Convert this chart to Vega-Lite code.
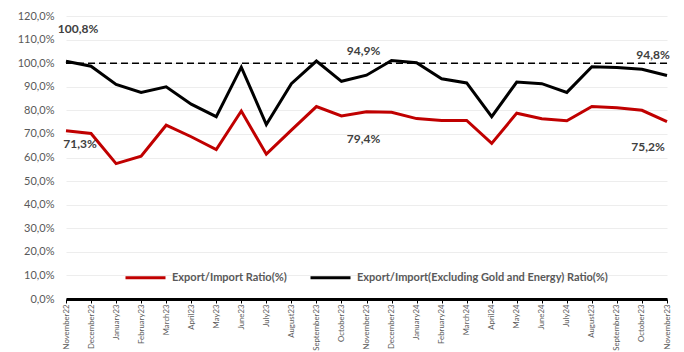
{
  "$schema": "https://vega.github.io/schema/vega-lite/v6.json",
  "autosize": "none",
  "width": 601,
  "height": 283,
  "padding": {"left": 66, "top": 16, "right": 17, "bottom": 53},
  "background": "white",
  "config": {"view": {"stroke": null}, "font": "Lato"},
  "datasets": {
    "rows": [
      {"month": "November22", "series": "Export/Import Ratio(%)", "value": 71.3},
      {"month": "December22", "series": "Export/Import Ratio(%)", "value": 70.2},
      {"month": "January23", "series": "Export/Import Ratio(%)", "value": 57.4},
      {"month": "February23", "series": "Export/Import Ratio(%)", "value": 60.6},
      {"month": "March23", "series": "Export/Import Ratio(%)", "value": 73.7},
      {"month": "April23", "series": "Export/Import Ratio(%)", "value": 68.8},
      {"month": "May23", "series": "Export/Import Ratio(%)", "value": 63.4},
      {"month": "June23", "series": "Export/Import Ratio(%)", "value": 79.7},
      {"month": "July23", "series": "Export/Import Ratio(%)", "value": 61.4},
      {"month": "August23", "series": "Export/Import Ratio(%)", "value": 71.6},
      {"month": "September23", "series": "Export/Import Ratio(%)", "value": 81.6},
      {"month": "October23", "series": "Export/Import Ratio(%)", "value": 77.6},
      {"month": "November23", "series": "Export/Import Ratio(%)", "value": 79.4},
      {"month": "December23", "series": "Export/Import Ratio(%)", "value": 79.2},
      {"month": "January24", "series": "Export/Import Ratio(%)", "value": 76.5},
      {"month": "February24", "series": "Export/Import Ratio(%)", "value": 75.7},
      {"month": "March24", "series": "Export/Import Ratio(%)", "value": 75.7},
      {"month": "April24", "series": "Export/Import Ratio(%)", "value": 66.0},
      {"month": "May24", "series": "Export/Import Ratio(%)", "value": 78.8},
      {"month": "June24", "series": "Export/Import Ratio(%)", "value": 76.4},
      {"month": "July24", "series": "Export/Import Ratio(%)", "value": 75.6},
      {"month": "August23 ", "series": "Export/Import Ratio(%)", "value": 81.6},
      {"month": "September23 ", "series": "Export/Import Ratio(%)", "value": 81.1},
      {"month": "October23 ", "series": "Export/Import Ratio(%)", "value": 80.0},
      {"month": "November23 ", "series": "Export/Import Ratio(%)", "value": 75.2},
      {"month": "November22", "series": "Export/Import(Excluding Gold and Energy) Ratio(%)", "value": 100.8},
      {"month": "December22", "series": "Export/Import(Excluding Gold and Energy) Ratio(%)", "value": 98.7},
      {"month": "January23", "series": "Export/Import(Excluding Gold and Energy) Ratio(%)", "value": 91.0},
      {"month": "February23", "series": "Export/Import(Excluding Gold and Energy) Ratio(%)", "value": 87.6},
      {"month": "March23", "series": "Export/Import(Excluding Gold and Energy) Ratio(%)", "value": 90.0},
      {"month": "April23", "series": "Export/Import(Excluding Gold and Energy) Ratio(%)", "value": 82.6},
      {"month": "May23", "series": "Export/Import(Excluding Gold and Energy) Ratio(%)", "value": 77.3},
      {"month": "June23", "series": "Export/Import(Excluding Gold and Energy) Ratio(%)", "value": 98.3},
      {"month": "July23", "series": "Export/Import(Excluding Gold and Energy) Ratio(%)", "value": 74.0},
      {"month": "August23", "series": "Export/Import(Excluding Gold and Energy) Ratio(%)", "value": 91.3},
      {"month": "September23", "series": "Export/Import(Excluding Gold and Energy) Ratio(%)", "value": 100.9},
      {"month": "October23", "series": "Export/Import(Excluding Gold and Energy) Ratio(%)", "value": 92.3},
      {"month": "November23", "series": "Export/Import(Excluding Gold and Energy) Ratio(%)", "value": 94.9},
      {"month": "December23", "series": "Export/Import(Excluding Gold and Energy) Ratio(%)", "value": 101.1},
      {"month": "January24", "series": "Export/Import(Excluding Gold and Energy) Ratio(%)", "value": 100.2},
      {"month": "February24", "series": "Export/Import(Excluding Gold and Energy) Ratio(%)", "value": 93.4},
      {"month": "March24", "series": "Export/Import(Excluding Gold and Energy) Ratio(%)", "value": 91.6},
      {"month": "April24", "series": "Export/Import(Excluding Gold and Energy) Ratio(%)", "value": 77.3},
      {"month": "May24", "series": "Export/Import(Excluding Gold and Energy) Ratio(%)", "value": 92.0},
      {"month": "June24", "series": "Export/Import(Excluding Gold and Energy) Ratio(%)", "value": 91.3},
      {"month": "July24", "series": "Export/Import(Excluding Gold and Energy) Ratio(%)", "value": 87.6},
      {"month": "August23 ", "series": "Export/Import(Excluding Gold and Energy) Ratio(%)", "value": 98.5},
      {"month": "September23 ", "series": "Export/Import(Excluding Gold and Energy) Ratio(%)", "value": 98.2},
      {"month": "October23 ", "series": "Export/Import(Excluding Gold and Energy) Ratio(%)", "value": 97.4},
      {"month": "November23 ", "series": "Export/Import(Excluding Gold and Energy) Ratio(%)", "value": 94.8}
    ]
  },
  "data": {"name": "rows"},
  "encoding": {
    "x": {
      "field": "month", "type": "ordinal", "sort": null,
      "scale": {"type": "point", "padding": 0},
      "axis": {
        "title": null, "labelAngle": -90, "labelFont": "Lato", "labelFontSize": 7.8,
        "labelColor": "#595959", "domainColor": "#000000", "domainWidth": 3,
        "tickColor": "#000000", "tickSize": 4, "tickWidth": 1, "grid": false,
        "labelPadding": 1
      }
    },
    "y": {
      "field": "value", "type": "quantitative",
      "scale": {"domain": [0, 120], "nice": false},
      "axis": {
        "title": null, "domain": false, "ticks": false, "grid": true,
        "gridColor": "#EDEDED", "gridWidth": 1,
        "values": [0, 10, 20, 30, 40, 50, 60, 70, 80, 90, 100, 110, 120],
        "labelExpr": "replace(format(datum.value, '.1f'), '.', ',') + '%'",
        "labelFont": "Lato", "labelFontSize": 11, "labelColor": "#595959",
        "labelPadding": 12
      }
    }
  },
  "layer": [
    {
      "data": {"values": [{"ref": 100}]},
      "mark": {"type": "rule", "color": "#000000", "strokeDash": [7, 4], "strokeWidth": 1.5},
      "encoding": {"x": null, "y": {"field": "ref", "type": "quantitative"}}
    },
    {
      "mark": {"type": "line", "strokeWidth": 3},
      "encoding": {
        "color": {
          "field": "series", "type": "nominal",
          "scale": {
            "domain": ["Export/Import Ratio(%)", "Export/Import(Excluding Gold and Energy) Ratio(%)"],
            "range": ["#C00000", "#000000"]
          },
          "legend": {
            "title": null, "orient": "none", "direction": "horizontal",
            "legendX": 58, "legendY": 240, "padding": 0,
            "symbolType": "stroke", "symbolSize": 1600, "symbolStrokeWidth": 3,
            "labelFont": "Lato", "labelFontSize": 11, "labelFontWeight": "bold",
            "labelColor": "#595959", "labelOffset": 5, "columnPadding": 17,
            "labelLimit": 400
          }
        }
      }
    },
    {
      "transform": [
        {"filter": "datum.month == 'November22' && datum.value > 90"},
        {"calculate": "replace(format(datum.value, '.1f'), '.', ',') + '%'", "as": "label"}
      ],
      "mark": {"type": "text", "font": "Lato", "fontSize": 12, "fontWeight": "bold", "color": "#404040", "dx": 12, "dy": -32},
      "encoding": {"text": {"field": "label"}}
    },
    {
      "transform": [
        {"filter": "datum.month == 'November22' && datum.value < 90"},
        {"calculate": "replace(format(datum.value, '.1f'), '.', ',') + '%'", "as": "label"}
      ],
      "mark": {"type": "text", "font": "Lato", "fontSize": 12, "fontWeight": "bold", "color": "#404040", "dx": 14, "dy": 13},
      "encoding": {"text": {"field": "label"}}
    },
    {
      "transform": [
        {"filter": "datum.month == 'November23' && datum.value > 90"},
        {"calculate": "replace(format(datum.value, '.1f'), '.', ',') + '%'", "as": "label"}
      ],
      "mark": {"type": "text", "font": "Lato", "fontSize": 12, "fontWeight": "bold", "color": "#404040", "dx": -3, "dy": -24},
      "encoding": {"text": {"field": "label"}}
    },
    {
      "transform": [
        {"filter": "datum.month == 'November23' && datum.value < 90"},
        {"calculate": "replace(format(datum.value, '.1f'), '.', ',') + '%'", "as": "label"}
      ],
      "mark": {"type": "text", "font": "Lato", "fontSize": 12, "fontWeight": "bold", "color": "#404040", "dx": -3, "dy": 27},
      "encoding": {"text": {"field": "label"}}
    },
    {
      "transform": [
        {"filter": "datum.month == 'November23 ' && datum.value > 90"},
        {"calculate": "replace(format(datum.value, '.1f'), '.', ',') + '%'", "as": "label"}
      ],
      "mark": {"type": "text", "font": "Lato", "fontSize": 12, "fontWeight": "bold", "color": "#404040", "dx": -14, "dy": -20},
      "encoding": {"text": {"field": "label"}}
    },
    {
      "transform": [
        {"filter": "datum.month == 'November23 ' && datum.value < 90"},
        {"calculate": "replace(format(datum.value, '.1f'), '.', ',') + '%'", "as": "label"}
      ],
      "mark": {"type": "text", "font": "Lato", "fontSize": 12, "fontWeight": "bold", "color": "#404040", "dx": -19, "dy": 25},
      "encoding": {"text": {"field": "label"}}
    }
  ]
}
